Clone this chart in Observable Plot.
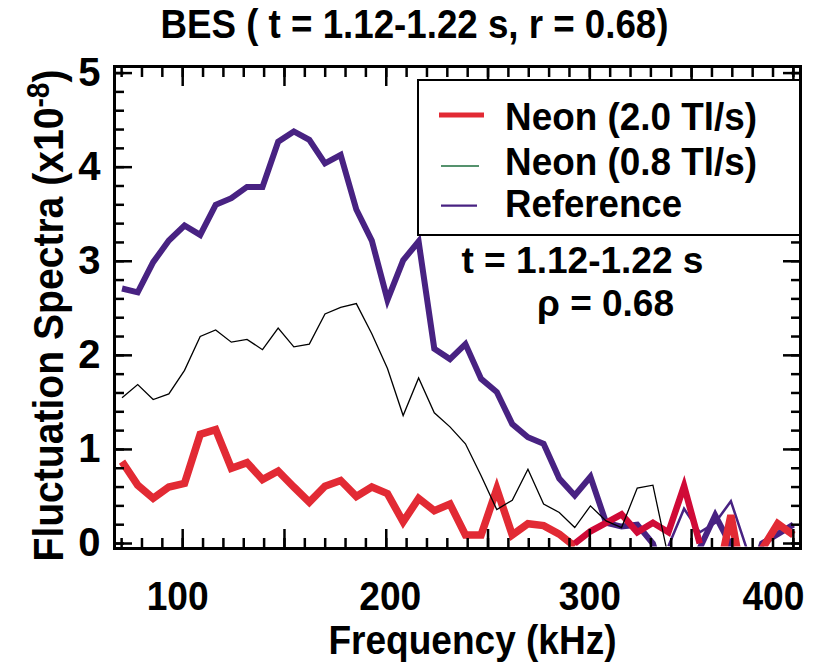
<!DOCTYPE html>
<html><head><meta charset="utf-8">
<script src="https://cdn.jsdelivr.net/npm/d3@7"></script>
<script src="https://cdn.jsdelivr.net/npm/@observablehq/plot@0.6"></script>
<style>
body{margin:0;background:#fff;}
#wrap{position:relative;width:814px;height:663px;}
</style></head><body><div id="wrap"></div>
<script>
// ---- data ----
const freq = [70.2, 77.9, 85.5, 93.2, 100.9, 108.6, 116.2, 123.9, 131.6, 139.2, 146.9, 154.6, 162.2, 169.9, 177.6, 185.3, 192.9, 200.6, 208.3, 215.9, 223.6, 231.3, 238.9, 246.6, 254.3, 261.9, 269.6, 277.3, 285.0, 292.6, 300.3, 308.0, 315.6, 323.3, 331.0, 338.6, 346.3, 354.0, 361.6, 369.3, 377.0, 384.6, 392.3, 400.0];
const reference = [2.71, 2.67, 2.99, 3.22, 3.38, 3.28, 3.60, 3.67, 3.79, 3.79, 4.27, 4.38, 4.29, 4.04, 4.13, 3.55, 3.22, 2.59, 3.01, 3.21, 2.07, 1.96, 2.12, 1.75, 1.61, 1.27, 1.13, 1.06, 0.69, 0.51, 0.71, 0.22, 0.18, 0.20, 0.0, -0.5, -0.5, -0.05, 0.30, -0.02, -0.5, 0.0, 0.10, 0.20];
const referenceThin = [null, null, null, null, null, null, null, null, null, null, null, null, null, null, null, null, null, null, null, null, null, null, null, null, null, null, null, null, null, null, null, null, null, null, null, -0.03, 0.37, 0.12, 0.22, 0.45, -0.05, null, null, null];
const neon08 = [1.55, 1.69, 1.53, 1.59, 1.84, 2.20, 2.27, 2.14, 2.17, 2.06, 2.29, 2.09, 2.12, 2.44, 2.51, 2.55, 2.23, 1.86, 1.36, 1.76, 1.39, 1.24, 1.06, 0.72, 0.36, 0.46, 0.79, 0.42, 0.33, 0.17, 0.40, 0.24, 0.17, 0.59, 0.62, -0.15, null, null, null, null, null, null, null, null];
const neon20 = [0.87, 0.62, 0.48, 0.60, 0.64, 1.16, 1.21, 0.80, 0.86, 0.68, 0.77, 0.60, 0.44, 0.61, 0.67, 0.50, 0.60, 0.53, 0.23, 0.48, 0.35, 0.42, 0.09, 0.09, 0.58, 0.09, 0.21, 0.19, 0.10, -0.03, null, null, null, null, null, null, null, null, -0.5, 0.30, -0.6, -0.06, 0.21, 0.09];
const neon20Tail = [null, null, null, null, null, null, null, null, null, null, null, null, null, null, null, null, null, null, null, null, null, null, null, null, null, null, null, null, null, 0.0, 0.13, 0.22, 0.31, 0.12, 0.22, 0.12, 0.61, 0.0, null, null, null, null, null, null];

const yMajorTicks = [0, 1, 2, 3, 4, 5];
const yMinorTicks = [0, 0.2, 0.4, 0.6, 0.8, 1, 1.2, 1.4, 1.6, 1.8, 2, 2.2, 2.4, 2.6, 2.8, 3, 3.2, 3.4, 3.6, 3.8, 4, 4.2, 4.4, 4.6, 4.8, 5];
const xMajorTicks = [100, 150, 200, 250, 300, 350, 400];
const xMinorTicks = [70, 80, 90, 100, 110, 120, 130, 140, 150, 160, 170, 180, 190, 200, 210, 220, 230, 240, 250, 260, 270, 280, 290, 300, 310, 320, 330, 340, 350, 360, 370, 380, 390, 400];
const xLabels = [100, 200, 300, 400];
const xLabelShift = [-5, 4, 0, -20];

const title = "BES ( t = 1.12-1.22 s, r = 0.68)";
const xTitle = "Frequency (kHz)";
const yTitleMain = "Fluctuation Spectra (x10";
const yTitleSup = "-8";
const yTitleEnd = ")";
const annotations = [
  {label: "t = 1.12-1.22 s", f: 296.4, v: 3.0},
  {label: "\u03C1 = 0.68", f: 307.7, v: 2.54}
];
const legendLabels = ["Neon (2.0 Tl/s)", "Neon (0.8 Tl/s)", "Reference"];
const legendColors = ["#e22a34", "#1c6e3c", "#482282"];
const legendWidths = [5, 1.5, 2.2];

const PURPLE = "#482282", RED = "#e22a34", CRIMSON = "#d00a37";
const FONT = '"Liberation Sans", Arial, sans-serif';
// horizontal extents of the texts in the reference (px)
const textWidths = new Map([
  [title, 508], [xTitle, 288], ["t = 1.12-1.22 s", 242], ["\u03C1 = 0.68", 137],
  ["100", 62], ["200", 62], ["300", 62], ["400", 62],
  ["Neon (2.0 Tl/s)", 252], ["Neon (0.8 Tl/s)", 252], ["Reference", 177]
]);

const rows = arr => freq.map((f, i) => ({f, v: arr[i]}));
const lineOpts = (stroke, strokeWidth) => ({x: "f", y: "v", stroke, strokeWidth, strokeLinejoin: "miter", strokeMiterlimit: 4, strokeLinecap: "butt"});
const blank = () => "";

const plot = Plot.plot({
  width: 814, height: 663,
  marginLeft: 114, marginRight: 14, marginTop: 66, marginBottom: 115,
  x: {domain: [66.5, 403.5], label: null},
  y: {domain: [-0.053, 5.07], label: null},
  style: {fontFamily: FONT, fontWeight: "bold", fontSize: "40px", background: "white", color: "black"},
  marks: [
    Plot.line(rows(reference), lineOpts(PURPLE, 6)),
    Plot.line(rows(referenceThin), lineOpts(PURPLE, 2.5)),
    Plot.line(rows(neon20), lineOpts(RED, 7.5)),
    Plot.line(rows(neon20Tail), lineOpts(CRIMSON, 6.5)),
    Plot.line(rows(neon08), lineOpts("black", 1.3)),
    // inward ticks on all four sides
    Plot.axisY(yMajorTicks, {anchor: "left", tickSize: -18, tickFormat: blank, strokeWidth: 2.5, label: null}),
    Plot.axisY(yMinorTicks, {anchor: "left", tickSize: -10, tickFormat: blank, strokeWidth: 2.5, label: null}),
    Plot.axisY(yMajorTicks, {anchor: "right", tickSize: -18, tickFormat: blank, strokeWidth: 2.5, label: null}),
    Plot.axisY(yMinorTicks, {anchor: "right", tickSize: -10, tickFormat: blank, strokeWidth: 2.5, label: null}),
    Plot.axisX(xMajorTicks, {anchor: "bottom", tickSize: -19, tickFormat: blank, strokeWidth: 2.5, label: null}),
    Plot.axisX(xMinorTicks, {anchor: "bottom", tickSize: -10, tickFormat: blank, strokeWidth: 2.5, label: null}),
    Plot.axisX(xMajorTicks, {anchor: "top", tickSize: -19, tickFormat: blank, strokeWidth: 2.5, label: null}),
    Plot.axisX(xMinorTicks, {anchor: "top", tickSize: -10, tickFormat: blank, strokeWidth: 2.5, label: null}),
    Plot.axisY(yMajorTicks, {anchor: "left", tickSize: 0, tickPadding: 14, fontSize: 40, tickFormat: d => String(d), label: null}),
    ...xLabels.map((t, i) => Plot.text([t], {x: d => d, text: d => String(d), frameAnchor: "bottom", lineAnchor: "middle", dy: 49, dx: xLabelShift[i], fontSize: 40})),
    Plot.frame({stroke: "black", strokeWidth: 3}),
    Plot.text([title], {frameAnchor: "top", lineAnchor: "middle", dy: -41, dx: -43, fontSize: 40}),
    Plot.text([xTitle], {frameAnchor: "bottom", lineAnchor: "middle", dy: 92, dx: 15, fontSize: 41}),
    Plot.text([yTitleMain], {frameAnchor: "left", textAnchor: "middle", lineAnchor: "middle", rotate: -90, dx: -65, dy: 8, fontSize: 43}),
    Plot.text(annotations, {x: "f", y: "v", text: "label", lineAnchor: "middle", fontSize: 36})
  ]
});

const xs = plot.scale("x"), ys = plot.scale("y");
const svg = d3.select(plot);

// clip the data lines at y = 0 (as in the reference)
const y0 = ys.apply(0) + 3;
svg.append("defs").append("clipPath").attr("id", "clipzero")
  .append("rect").attr("x", xs.range[0]).attr("y", ys.range[1])
  .attr("width", xs.range[1] - xs.range[0]).attr("height", y0 - ys.range[1]);
svg.selectAll('g[aria-label="line"]').attr("clip-path", "url(#clipzero)");

// drop empty tick labels, fit text widths, superscript in y title
svg.selectAll("text").each(function() {
  const t = this.textContent;
  if (t === "") { this.remove(); return; }
  if (textWidths.has(t)) {
    this.setAttribute("textLength", textWidths.get(t));
    this.setAttribute("lengthAdjust", "spacingAndGlyphs");
  }
  if (t === yTitleMain) {
    const el = d3.select(this);
    el.text(null);
    el.append("tspan").text(yTitleMain);
    el.append("tspan").attr("dy", "-0.45em").attr("font-size", "0.72em").text(yTitleSup);
    el.append("tspan").attr("dy", "0.32em").text(yTitleEnd);
    this.setAttribute("textLength", 492);
    this.setAttribute("lengthAdjust", "spacingAndGlyphs");
  }
});

const wrap = d3.select("#wrap");
wrap.node().appendChild(plot);

// legend box
const lg = wrap.append("svg").attr("width", 384).attr("height", 157)
  .style("position", "absolute").style("left", "417px").style("top", "79px");
lg.append("rect").attr("x", 1).attr("y", 1).attr("width", 382).attr("height", 155)
  .attr("fill", "white").attr("stroke", "black").attr("stroke-width", 2);
const rowsY = [36, 87, 126.7];
const textY = [51, 96, 138];
legendLabels.forEach((lab, i) => {
  lg.append("line").attr("x1", i === 0 ? 22 : 24).attr("x2", i === 0 ? 67 : (i === 1 ? 62 : 60))
    .attr("y1", rowsY[i]).attr("y2", rowsY[i])
    .attr("stroke", legendColors[i]).attr("stroke-width", legendWidths[i]);
  lg.append("text").attr("x", 88).attr("y", textY[i]).text(lab)
    .attr("font-family", FONT).attr("font-weight", "bold").attr("font-size", 39).attr("fill", "black")
    .attr("textLength", textWidths.get(lab)).attr("lengthAdjust", "spacingAndGlyphs");
});
</script></body></html>
